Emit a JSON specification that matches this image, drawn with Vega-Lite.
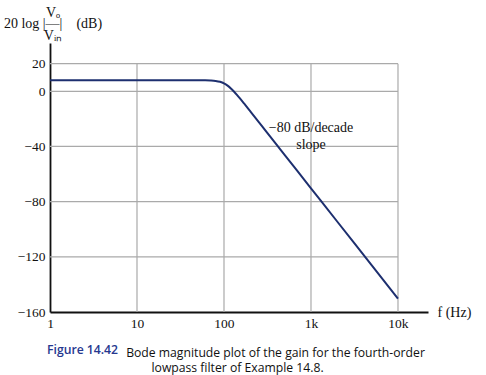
{
  "$schema": "https://vega.github.io/schema/vega-lite/v6.json",
  "width": 378,
  "height": 269,
  "autosize": {"type": "none"},
  "padding": {"left": 50, "top": 43, "right": 58, "bottom": 63},
  "background": "white",
  "config": {"view": {"stroke": null}, "font": "Liberation Serif"},
  "title": {
    "text": "Figure 14.42",
    "subtitle": [
      "\u200b\u00a0\u00a0\u00a0\u00a0\u00a0\u00a0\u00a0\u00a0\u00a0\u00a0\u00a0\u00a0\u00a0\u00a0\u00a0\u00a0\u00a0\u00a0\u00a0\u00a0\u00a0\u00a0\u00a0\u00a0\u00a0Bode magnitude plot of the gain for the fourth-order",
      "\u200b\u00a0\u00a0\u00a0\u00a0\u00a0\u00a0\u00a0\u00a0\u00a0\u00a0\u00a0\u00a0\u00a0\u00a0\u00a0\u00a0\u00a0\u00a0\u00a0\u00a0\u00a0\u00a0\u00a0\u00a0\u00a0\u00a0\u00a0\u00a0\u00a0\u00a0\u00a0\u00a0\u00a0lowpass filter of Example 14.8."
    ],
    "orient": "bottom",
    "anchor": "start",
    "frame": "group",
    "font": "Open Sans",
    "fontSize": 12.2,
    "fontWeight": 600,
    "color": "#26388f",
    "subtitleFont": "Open Sans",
    "subtitleFontSize": 12.2,
    "subtitleColor": "#111111",
    "subtitlePadding": -9,
    "subtitleLineHeight": 15.5,
    "offset": 14,
    "dx": -3
  },
  "datasets": {
    "curve": [
      {"f": 1, "db": 8},
      {"f": 10, "db": 8},
      {"f": 30, "db": 8},
      {"f": 50, "db": 7.99},
      {"f": 60, "db": 7.95},
      {"f": 70, "db": 7.83},
      {"f": 80, "db": 7.53},
      {"f": 90, "db": 6.89},
      {"f": 100, "db": 5.76},
      {"f": 110, "db": 4.11},
      {"f": 120, "db": 2.08},
      {"f": 130, "db": -0.15},
      {"f": 140, "db": -2.41},
      {"f": 150, "db": -4.64},
      {"f": 170, "db": -8.83},
      {"f": 200, "db": -14.4},
      {"f": 250, "db": -22.1},
      {"f": 300, "db": -28.5},
      {"f": 400, "db": -38.5},
      {"f": 500, "db": -46.2},
      {"f": 700, "db": -57.9},
      {"f": 1000, "db": -70.3},
      {"f": 2000, "db": -94.4},
      {"f": 5000, "db": -126.2},
      {"f": 10000, "db": -150.3}
    ],
    "hgrid": [
      {"db": 20, "f": 1, "f2": 10000},
      {"db": 0, "f": 1, "f2": 10000},
      {"db": -40, "f": 1, "f2": 10000},
      {"db": -80, "f": 1, "f2": 10000},
      {"db": -120, "f": 1, "f2": 10000}
    ],
    "vgrid": [
      {"f": 10, "db": -160, "db2": 20},
      {"f": 100, "db": -160, "db2": 20},
      {"f": 1000, "db": -160, "db2": 20},
      {"f": 10000, "db": -160, "db2": 20}
    ],
    "notes": [
      {"f": 1000, "db": -26.3, "label": "\u221280 dB/decade\nslope"}
    ]
  },
  "encoding": {
    "x": {
      "field": "f",
      "type": "quantitative",
      "scale": {"type": "log", "domain": [1, 22130], "nice": false},
      "axis": {
        "values": [1, 10, 100, 1000, 10000],
        "labelExpr": "datum.value >= 1000 ? (datum.value / 1000) + 'k' : datum.value + ''",
        "grid": false,
        "ticks": false,
        "domainColor": "#111111",
        "domainWidth": 1.8,
        "labelFont": "Liberation Serif",
        "labelFontSize": 13.5,
        "labelColor": "#111111",
        "labelPadding": 4,
        "labelFlush": false,
        "labelOverlap": false,
        "title": "f (Hz)",
        "titleFont": "Liberation Serif",
        "titleFontSize": 14,
        "titleFontWeight": "normal",
        "titleColor": "#111111",
        "titleAngle": 0,
        "titleX": 387,
        "titleY": 0,
        "titleAlign": "left",
        "titleBaseline": "middle"
      }
    },
    "y": {
      "field": "db",
      "type": "quantitative",
      "scale": {"domain": [-160, 35], "nice": false, "zero": false},
      "axis": {
        "values": [20, 0, -40, -80, -120, -160],
        "grid": false,
        "ticks": false,
        "domainColor": "#111111",
        "domainWidth": 1.8,
        "labelFont": "Liberation Serif",
        "labelFontSize": 13.5,
        "labelColor": "#111111",
        "labelPadding": 5,
        "labelOverlap": false,
        "title": ["V\u2092", "20 log |\u2014|\u2002\u2002(dB)", "V\u1d62\u2099"],
        "titleFont": "Liberation Serif",
        "titleFontSize": 14,
        "titleFontWeight": "normal",
        "titleColor": "#111111",
        "titleAngle": 0,
        "titleX": 2.5,
        "titleY": -31,
        "titleAlign": "center",
        "titleBaseline": "middle",
        "titleLineHeight": 11.5
      }
    }
  },
  "layer": [
    {
      "data": {"name": "hgrid"},
      "mark": {"type": "rule", "color": "#aaaaaa", "strokeWidth": 1.2},
      "encoding": {"x2": {"field": "f2"}}
    },
    {
      "data": {"name": "vgrid"},
      "mark": {"type": "rule", "color": "#aaaaaa", "strokeWidth": 1.2},
      "encoding": {"y2": {"field": "db2"}}
    },
    {
      "data": {"name": "curve"},
      "mark": {"type": "line", "color": "#1d2f6f", "strokeWidth": 2, "interpolate": "monotone"}
    },
    {
      "data": {"name": "notes"},
      "mark": {"type": "text", "font": "Liberation Serif", "fontSize": 14, "color": "#111111", "lineBreak": "\n", "lineHeight": 17, "align": "center", "baseline": "middle"},
      "encoding": {"text": {"field": "label"}}
    }
  ]
}
